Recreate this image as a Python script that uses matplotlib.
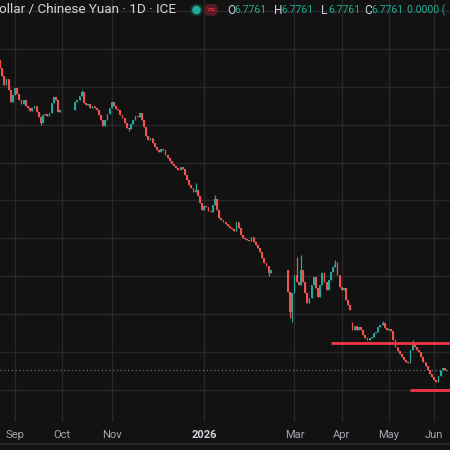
import matplotlib.pyplot as plt
import pandas as pd
from matplotlib.patches import FancyBboxPatch, Circle
from matplotlib.lines import Line2D

# ---------------------------------------------------------- *** Data *** ----------------------------------------------------------
# USD/CNY daily closes (ICE), one per trading day from 2025-08-21
first_open = 7.1853
closes = [
    7.1747, 7.1642, 7.1523, 7.1602, 7.1457, 7.1299, 7.1391, 7.1483, 7.1404, 7.1325,
    7.1272, 7.1325, 7.1246, 7.1219, 7.1180, 7.1219, 7.1246, 7.1167, 7.1101, 7.1022,
    7.1127, 7.1140, 7.1114, 7.1153, 7.1285, 7.1365, 7.1325, 7.1167, 7.1193, 7.1193,
    7.1193, 7.1193, 7.1193, 7.1193, 7.1193, 7.1299, 7.1325, 7.1378, 7.1431, 7.1285,
    7.1259, 7.1272, 7.1219, 7.1246, 7.1219, 7.1193, 7.1127, 7.1061, 7.0982, 7.1061,
    7.1140, 7.1219, 7.1299, 7.1246, 7.1206, 7.1193, 7.1127, 7.1088, 7.1022, 7.0956,
    7.0943, 7.1008, 7.1061, 7.1114, 7.1101, 7.1153, 7.1061, 7.0969, 7.0850, 7.0797,
    7.0824, 7.0758, 7.0705, 7.0666, 7.0639, 7.0679, 7.0666, 7.0600, 7.0560, 7.0520,
    7.0481, 7.0454, 7.0428, 7.0402, 7.0441, 7.0415, 7.0336, 7.0270, 7.0204, 7.0164,
    7.0112, 7.0138, 7.0059, 6.9966, 6.9874, 6.9927, 6.9914, 6.9861, 6.9848, 6.9940,
    7.0019, 6.9874, 6.9769, 6.9742, 6.9716, 6.9690, 6.9663, 6.9637, 6.9624, 6.9597,
    6.9716, 6.9637, 6.9544, 6.9505, 6.9492, 6.9478, 6.9465, 6.9518, 6.9452, 6.9412,
    6.9373, 6.9320, 6.9241, 6.9175, 6.9135, 6.9043, 6.9083, 6.9083, 6.9083, 6.9083,
    6.9083, 6.9083, 6.9083, 6.9083, 6.8793, 6.8529, 6.8779, 6.9017, 6.8924, 6.8885,
    6.9083, 6.8924, 6.8779, 6.8648, 6.8713, 6.8885, 6.8990, 6.8845, 6.8727, 6.8885,
    6.9043, 6.8924, 6.8819, 6.8951, 6.9056, 6.9122, 6.9149, 6.9017, 6.8859, 6.8819,
    6.8845, 6.8687, 6.8621, 6.8555, 6.8291, 6.8344, 6.8291, 6.8331, 6.8291, 6.8225,
    6.8186, 6.8159, 6.8186, 6.8199, 6.8252, 6.8265, 6.8331, 6.8357, 6.8384, 6.8318,
    6.8291, 6.8304, 6.8278, 6.8159, 6.8067, 6.8014, 6.7975, 6.7935, 6.7896, 6.7869,
    6.7856, 6.8029, 6.8120, 6.8067, 6.8029, 6.8001, 6.7935, 6.7869, 6.7817, 6.7764,
    6.7711, 6.7671, 6.7632, 6.7606, 6.7685, 6.7764, 6.7791, 6.7761, 6.7761,
]
gap_opens = {164: 6.8384}  # opening gap after the early April drop
wick_highs = {91: 7.0230, 100: 7.0072, 138: 6.9254, 140: 6.9280, 156: 6.9215,
              157: 6.9190, 164: 6.8397, 178: 6.8411, 192: 6.8159, 38: 7.1460}
wick_lows = {135: 6.8450, 136: 6.8400, 19: 7.1000, 60: 7.0920, 125: 6.9005}

level_lines = [6.8120, 6.7500]          # red horizontal rays
level_start = ['2026-03-25', '2026-05-15']
last_price = 6.7761

tick_months = ['2025-09', '2025-10', '2025-11', '2026-01', '2026-03', '2026-04', '2026-05', '2026-06']
tick_labels = ['Sep', 'Oct', 'Nov', '2026', 'Mar', 'Apr', 'May', 'Jun']
price_grid = [6.75, 6.80, 6.85, 6.90, 6.95, 7.00, 7.05, 7.10, 7.15, 7.20, 7.25]

dates = pd.bdate_range('2025-08-21', periods=len(closes))
opens = [first_open] + closes[:-1]
for k, v in gap_opens.items():
    opens[k] = v

# ---------------------------------------------------------- *** Plot *** ----------------------------------------------------------
bg = '#121212'
up_col = '#26a69a'
down_col = '#ef5350'

fig = plt.figure(figsize=(4.5, 4.5), dpi=100, facecolor=bg)
ax = fig.add_axes([0, 28 / 450, 1, 422 / 450], facecolor=bg)

for i in range(len(closes)):
    o, c = opens[i], closes[i]
    col = up_col if c >= o else down_col
    hi = wick_highs.get(i, max(o, c))
    lo = wick_lows.get(i, min(o, c))
    ax.vlines(i, lo, hi, color=col, lw=0.9, zorder=3)
    h = max(abs(c - o), 0.0009)
    ax.bar(i, h, bottom=min(o, c) - (0.00045 if c == o else 0), width=0.82, color=col, lw=0, zorder=3)

for lvl, start in zip(level_lines, level_start):
    s = dates.searchsorted(pd.Timestamp(start))
    ax.hlines(lvl, s, 220, color='#f23645', lw=2, zorder=4)

ax.axhline(last_price, color='#6a6d78', lw=0.9, ls=(0, (1, 2)), zorder=2)

tick_pos = [dates.searchsorted(pd.Timestamp(m + '-01')) for m in tick_months]
ax.set_xticks(tick_pos)
ax.set_xticklabels(tick_labels)
ax.set_yticks(price_grid)
ax.grid(True, color='#282828', lw=1)
ax.set_axisbelow(True)
ax.tick_params(axis='x', length=0, pad=6, labelcolor='#a3a6af', labelsize=8)
ax.tick_params(axis='y', left=False, labelleft=False)
for lab in ax.get_xticklabels():
    lab.set_family('Roboto')
    if lab.get_text() == '2026':
        lab.set_color('#d1d4dc')
        lab.set_fontweight('bold')
for sp in ax.spines.values():
    sp.set_visible(False)
ax.set_xlim(0, 209.4)
ax.set_ylim(6.7078, 7.2644)

fig.add_artist(Line2D([0, 1], [6 / 450, 6 / 450], color='#2a2a2a', lw=1.2))

# header legend
def fx(x):
    return x / 450

def fy(y):
    return 1 - y / 450

fig.text(fx(-1), fy(10), 'ollar / Chinese Yuan · 1D · ICE', color='#d1d4dc', fontsize=9.7,
         family='Roboto', va='center', ha='left')
fig.add_artist(FancyBboxPatch((fx(190), fy(16)), fx(13), 12 / 450, boxstyle='round,pad=0,rounding_size=0.013',
                              transform=fig.transFigure, color='#10332c', lw=0))
fig.add_artist(Circle((fx(196.5), fy(10)), 3.6 / 450, transform=fig.transFigure, color='#22ab94'))
fig.add_artist(FancyBboxPatch((fx(204), fy(16)), fx(14), 12 / 450, boxstyle='round,pad=0,rounding_size=0.013',
                              transform=fig.transFigure, color='#5a1a26', lw=0))
fig.text(fx(211), fy(10), '≈', color='#f23645', fontsize=8, ha='center', va='center')

ohlc = [('O', 227), ('H', 274), ('L', 321), ('C', 364)]
for lab, x in ohlc:
    fig.text(fx(x), fy(10), lab, color='#d1d4dc', fontsize=8.6, family='Roboto', va='center', ha='left')
    fig.text(fx(x + 7.5), fy(10), '6.7761', color='#22ab94', fontsize=7.6, family='Roboto', va='center', ha='left')
fig.text(fx(407), fy(10), '0.0000 (', color='#22ab94', fontsize=7.6, family='Roboto', va='center', ha='left')

plt.savefig('out.png', dpi=100, facecolor=bg)
